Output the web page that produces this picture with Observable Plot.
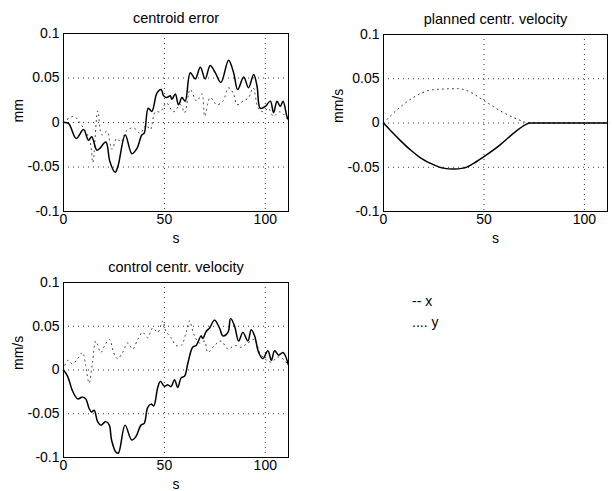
<!DOCTYPE html>
<html>
<head>
<meta charset="utf-8">
<script src="https://cdn.jsdelivr.net/npm/d3@7"></script>
<script src="https://cdn.jsdelivr.net/npm/@observablehq/plot@0.6"></script>
<style>
  html, body { margin: 0; padding: 0; background: #fff; }
  #root { position: relative; width: 612px; height: 491px; overflow: hidden; background: #fff;
          font-family: "Liberation Sans", Arial, Helvetica, sans-serif; }
  .panel { position: absolute; }
  .legend { position: absolute; font-size: 14px; color: #000; white-space: pre; }
</style>
</head>
<body>
<div id="root"></div>
<script>
// ---------- data ----------
const panelTitles = ["centroid error", "planned centr. velocity", "control centr. velocity"];
const panelYLabels = ["mm", "mm/s", "mm/s"];
const xTicks = [0, 50, 100];
const yTicks = [-0.1, -0.05, 0, 0.05, 0.1];
const legendLabels = ["-- x", ".... y"];

// centroid error, x (solid)
const errXT = [0,2.5,6.3,9.9,12.4,14,16.5,18,21,23,25.6,27,30.6,33.9,36.4,38.8,40,42,43.8,46.3,48.4,49.6,51.2,52.9,53.7,55.4,57,58.7,60.3,62.8,65.3,67.8,70.2,72.7,75.2,78,81.8,84.3,86.3,89.3,91.7,94.2,95.9,97.5,100,102.5,104.1,105.8,107.4,108.8,110.7,111.5];
const errXV = [0,-0.001,-0.018,-0.008,-0.02,-0.016,-0.031,-0.029,-0.022,-0.044,-0.056,-0.049,-0.014,-0.035,-0.029,-0.014,-0.012,0.016,0.0125,0.033,0.037,0.03,0.028,0.03,0.026,0.032,0.02,0.028,0.024,0.056,0.049,0.062,0.049,0.064,0.056,0.045,0.07,0.056,0.037,0.051,0.039,0.054,0.041,0.016,0.018,0.024,0.011,0.024,0.018,0.024,0.007,0.003];
// centroid error, y (dotted)
const errYT = [0,5,8,13,14.5,17,19,21.5,24,26.4,28.5,31,34.7,38,41,43,45.5,48,51,54.5,58,60,62.8,66,68.6,70,72.7,76,79,81.8,84.3,86,89,91.7,94,96.5,99,101.5,104,107,110,111.5];
const errYV = [0,0.007,0,-0.02,-0.045,0.013,-0.014,-0.01,-0.03,-0.018,-0.022,-0.01,-0.006,-0.012,-0.003,-0.008,0.012,0.012,0.022,0.012,0.02,0.011,0.037,0.024,0.032,0.007,0.028,0.02,0.024,0.039,0.032,0.02,0.024,0.028,0.039,0.016,0.012,0.016,0.007,0.012,0.007,0];

// planned centr. velocity, x (solid)
const planXT = [0,4.1,8.3,13.2,18.2,24.8,29.8,34.7,39.7,44.6,50,57.9,64.5,71,72.7,80,90,100,111.5];
const planXV = [0,-0.01,-0.0196,-0.03,-0.039,-0.047,-0.051,-0.052,-0.051,-0.046,-0.038,-0.025,-0.012,-0.0015,0,0,0,0,0];
// planned centr. velocity, y (dotted)
const planYT = [0,8.3,16.5,24.8,37,41,49.6,57.9,66,72.7,80,90,100,111.5];
const planYV = [0,0.018,0.031,0.0377,0.0388,0.037,0.026,0.014,0.005,0,0,0,0,0];

// control centr. velocity, x (solid)
const ctrlXT = [0,2,4.5,7,9.4,11,12.7,13.9,15.2,16.9,18.5,21,22.7,23.8,26,27.2,30.5,33.8,35.9,38.4,40,41.7,43.4,44.7,46.7,48,50,51.7,53.3,55,56.6,58.3,60,61.6,64,65.7,68.2,69,70.7,72.4,74.8,77.3,79,81.5,82.8,84.8,86.8,88.9,91.4,93,94.7,96.7,98.8,101.3,103,104.6,106.6,108.8,111.5];
const ctrlXV = [0,-0.007,-0.024,-0.033,-0.031,-0.033,-0.044,-0.048,-0.046,-0.059,-0.063,-0.059,-0.063,-0.08,-0.094,-0.095,-0.063,-0.08,-0.076,-0.063,-0.061,-0.043,-0.039,-0.041,-0.02,-0.013,-0.0185,-0.017,-0.019,-0.011,-0.02,-0.009,-0.007,0.0074,0.026,0.028,0.039,0.036,0.044,0.048,0.057,0.048,0.039,0.043,0.059,0.05,0.033,0.043,0.033,0.046,0.039,0.02,0.013,0.022,0.011,0.022,0.017,0.02,0.0056];
// control centr. velocity, y (dotted)
const ctrlYT = [0,2,4.5,7,9.4,11,12.7,14.4,16,18.5,20.2,22.7,25,26.8,29.3,31.8,34.3,36.8,39.2,41.7,44.2,46.7,49.2,50.8,53.3,55.8,58.3,60.8,62.4,64.9,67.4,69.9,71.5,74.8,78.1,81.5,84.8,88.1,91.4,94.7,97.2,99.7,103,106.3,109.6,111.5];
const ctrlYV = [0,0.011,0.007,0.013,0.02,0.005,-0.015,0.009,0.033,0.02,0.027,0.035,0.019,0.013,0.02,0.031,0.024,0.035,0.043,0.037,0.048,0.043,0.056,0.044,0.037,0.028,0.028,0.043,0.056,0.039,0.031,0.033,0.02,0.028,0.033,0.024,0.028,0.026,0.031,0.035,0.02,0.013,0.009,0.015,0.011,0.004];

// ---------- drawing ----------
const FONT = "Liberation Sans, Arial, Helvetica, sans-serif";
const xDomain = [0, 111.5];
const yDomain = [-0.1, 0.1];
const zip = (t, v) => t.map((d, i) => ({t: d, v: v[i]}));

function panel({title, ylabel, solid, dotted, width, height, margins, curve}) {
  const [mt, mr, mb, ml] = margins;
  return Plot.plot({
    width, height,
    marginTop: mt, marginRight: mr, marginBottom: mb, marginLeft: ml,
    style: {fontFamily: FONT, fontSize: "14px", background: "#fff", color: "#000"},
    x: {domain: xDomain},
    y: {domain: yDomain},
    marks: [
      Plot.ruleX([50, 100], {stroke: "#000", strokeOpacity: 0.8, strokeDasharray: "1,4", strokeWidth: 1}),
      Plot.ruleY([-0.05, 0, 0.05], {stroke: "#000", strokeOpacity: 0.8, strokeDasharray: "1,4", strokeWidth: 1}),
      Plot.line(dotted, {x: "t", y: "v", stroke: "#333", strokeWidth: 1, strokeDasharray: "1,4", curve}),
      Plot.line(solid, {x: "t", y: "v", stroke: "#000", strokeWidth: 1.5, curve}),
      Plot.frame({stroke: "#000", strokeWidth: 1}),
      Plot.axisX({ticks: xTicks, tickSize: 0, tickPadding: 3, tickFormat: d => String(d), label: null, fontSize: 14}),
      Plot.axisY({ticks: yTicks, tickSize: 0, tickPadding: 4, tickFormat: d => String(d), label: null, fontSize: 14}),
      Plot.text([title], {frameAnchor: "top", dy: -15, lineAnchor: "middle", fontSize: 14.5}),
      Plot.text(["s"], {frameAnchor: "bottom", dy: 27, lineAnchor: "middle", fontSize: 14}),
      Plot.text([ylabel], {frameAnchor: "left", dx: -45, rotate: -90, lineAnchor: "middle", fontSize: 14})
    ]
  });
}

const root = document.getElementById("root");
function place(el, left, top) {
  const wrap = document.createElement("div");
  wrap.className = "panel";
  wrap.style.left = left + "px";
  wrap.style.top = top + "px";
  wrap.appendChild(el);
  root.appendChild(wrap);
}

place(panel({
  title: panelTitles[0], ylabel: panelYLabels[0],
  solid: zip(errXT, errXV), dotted: zip(errYT, errYV),
  width: 300, height: 250, margins: [33, 12, 39, 63], curve: "catmull-rom"
}), 0, 0);

place(panel({
  title: panelTitles[1], ylabel: panelYLabels[1],
  solid: zip(planXT, planXV), dotted: zip(planYT, planYV),
  width: 312, height: 250, margins: [34, 5, 39, 83], curve: "monotone-x"
}), 300, 0);

place(panel({
  title: panelTitles[2], ylabel: panelYLabels[2],
  solid: zip(ctrlXT, ctrlXV), dotted: zip(ctrlYT, ctrlYV),
  width: 300, height: 241, margins: [32, 12, 34, 63], curve: "catmull-rom"
}), 0, 250);

legendLabels.forEach((lab, i) => {
  const d = document.createElement("div");
  d.className = "legend";
  d.textContent = lab;
  d.style.left = "412px";
  d.style.top = (293 + i * 21) + "px";
  root.appendChild(d);
});
</script>
</body>
</html>
